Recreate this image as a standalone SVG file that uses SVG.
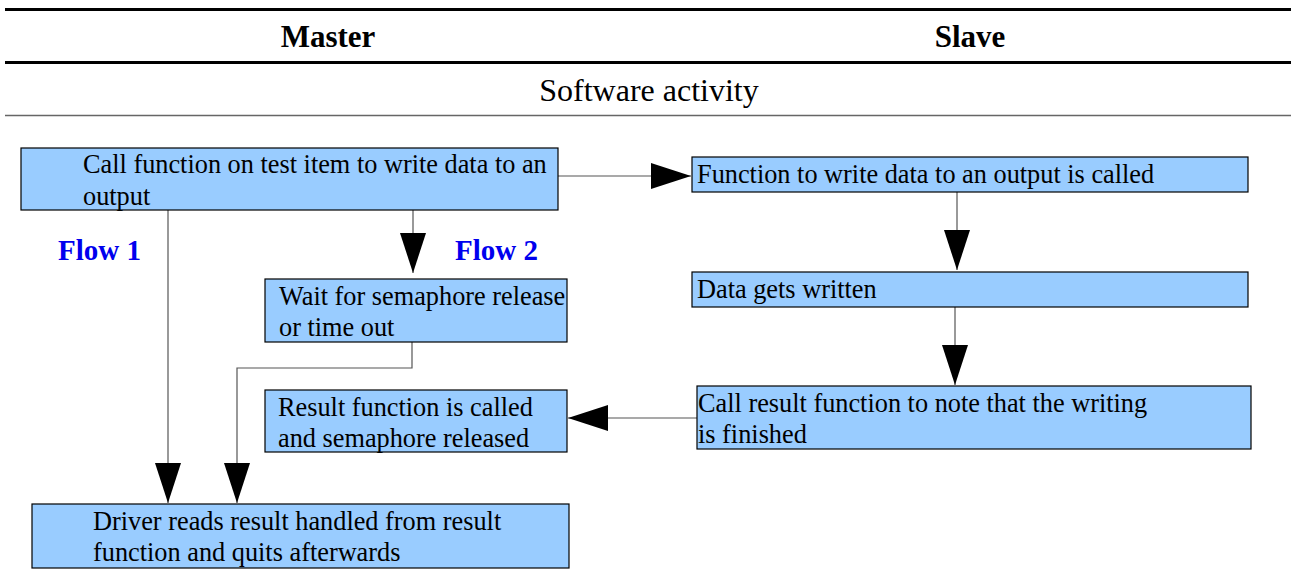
<svg xmlns="http://www.w3.org/2000/svg" width="1291" height="572" viewBox="0 0 1291 572">
<defs>
<style>
text{font-family:'Liberation Serif','Times New Roman',Times,'DejaVu Serif',serif}
.t{font-size:26.3px;fill:#000}
.h{font-size:31px;font-weight:bold;fill:#000}
.flow{font-size:29px;font-weight:bold;fill:#0000ee}
.box{fill:#99ccff;stroke:#000;stroke-width:1.2}
.c{fill:none;stroke:#555;stroke-width:1.2}
</style>
<marker id="ah" viewBox="0 0 40 26" refX="40" refY="13" markerWidth="40" markerHeight="26" markerUnits="userSpaceOnUse" orient="auto">
<path d="M0,0 L40,13 L0,26 Z" fill="#000"/>
</marker>
</defs>
<rect width="1291" height="572" fill="#fff"/>
<g id="header">
<line x1="5" y1="9.5" x2="1291" y2="9.5" stroke="#000" stroke-width="3"/>
<line x1="5" y1="62.5" x2="1291" y2="62.5" stroke="#000" stroke-width="3"/>
<line x1="5" y1="115.5" x2="1291" y2="115.5" stroke="#666" stroke-width="1.5"/>
<text class="h" x="328" y="47" text-anchor="middle">Master</text>
<text class="h" x="970" y="47" text-anchor="middle">Slave</text>
<text class="t" x="649" y="101" text-anchor="middle" style="font-size:32px">Software activity</text>
</g>
<g id="flow-labels">
<text class="flow" x="58" y="260">Flow 1</text>
<text class="flow" x="455" y="260">Flow 2</text>
</g>
<g id="connectors">
<path class="c" d="M558,176 H691" marker-end="url(#ah)"/>
<path class="c" d="M413,210 V273" marker-end="url(#ah)"/>
<path class="c" d="M957,192 V270" marker-end="url(#ah)"/>
<path class="c" d="M955,307 V385" marker-end="url(#ah)"/>
<path class="c" d="M697,418 H568" marker-end="url(#ah)"/>
<path class="c" d="M168,210 V503" marker-end="url(#ah)"/>
<path class="c" d="M412,342 V368 H237 V503" marker-end="url(#ah)"/>
</g>
<g id="n1">
<rect class="box" x="21" y="148" width="537" height="62"/>
<text class="t" x="83" y="173">Call function on test item to write data to an</text>
<text class="t" x="83" y="205">output</text>
</g>
<g id="n2">
<rect class="box" x="692" y="157" width="556" height="35"/>
<text class="t" x="697" y="183">Function to write data to an output is called</text>
</g>
<g id="n3">
<rect class="box" x="692" y="272" width="556" height="35"/>
<text class="t" x="697" y="298">Data gets written</text>
</g>
<g id="n4">
<rect class="box" x="697" y="386" width="554" height="63"/>
<text class="t" x="698" y="412">Call result function to note that the writing</text>
<text class="t" x="698" y="443">is finished</text>
</g>
<g id="n5">
<rect class="box" x="265" y="390" width="302" height="62"/>
<text class="t" x="278" y="416">Result function is called</text>
<text class="t" x="278" y="447">and semaphore released</text>
</g>
<g id="n6">
<rect class="box" x="265" y="279" width="302" height="63"/>
<text class="t" x="279" y="305">Wait for semaphore release</text>
<text class="t" x="279" y="336">or time out</text>
</g>
<g id="n7">
<rect class="box" x="32" y="504" width="537" height="64"/>
<text class="t" x="93" y="530">Driver reads result handled from result</text>
<text class="t" x="93" y="561">function and quits afterwards</text>
</g>
</svg>
